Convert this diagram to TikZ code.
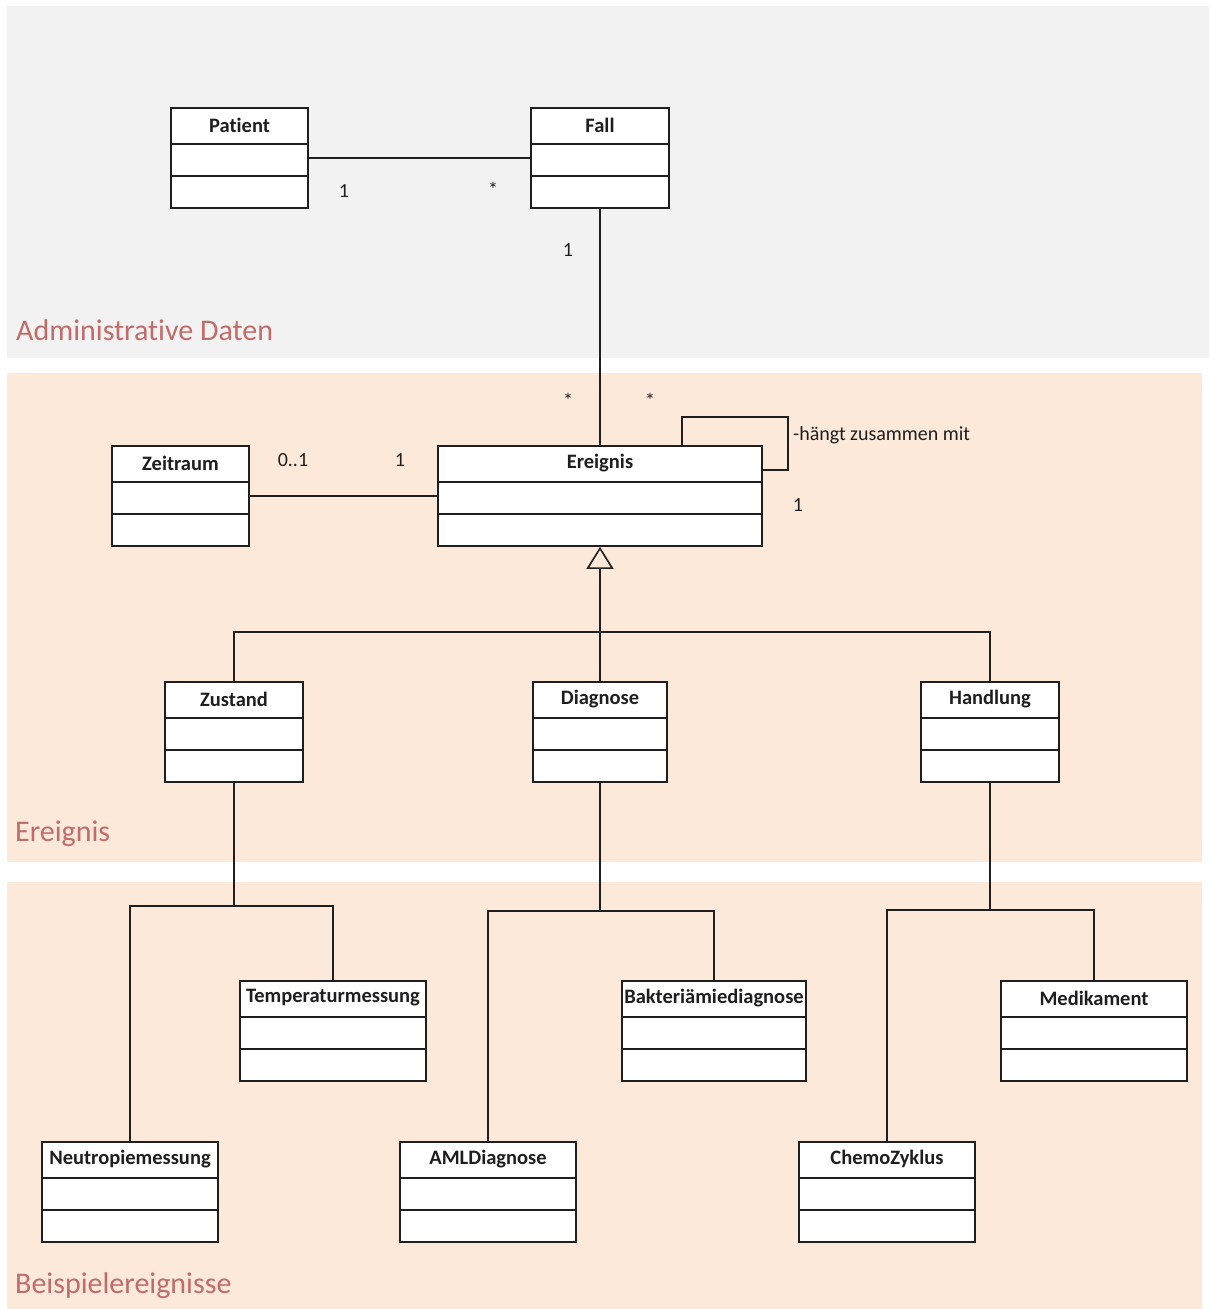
\documentclass[tikz,border=0pt]{standalone}
\usepackage{fontspec}
\setmainfont[Ligatures=NoCommon]{Carlito}
\usetikzlibrary{arrows.meta,calc}
\definecolor{admgray}{RGB}{242,242,242}
\definecolor{peach}{RGB}{253,233,218}
\definecolor{seclabel}{RGB}{192,108,106}
\definecolor{ink}{RGB}{30,30,30}
\tikzset{
  clsbox/.style={draw=ink, line width=1.7pt, fill=white, rectangle, inner sep=0pt},
  divline/.style={draw=ink, line width=1.5pt},
  clsname/.style={font=\fontsize{20.5}{24}\selectfont\bfseries, text=ink, inner sep=0pt},
  conn/.style={draw=ink, line width=1.6pt},
  mult/.style={font=\fontsize{20}{24}\selectfont, text=ink, inner sep=0pt},
  section/.style={font=\fontsize{30}{36}\selectfont, text=seclabel, anchor=west, inner sep=0pt},
  inherit/.style={conn, -{Triangle[open, length=22pt, width=27pt, line width=1.6pt]}},
}
\newcommand{\umlclass}[6]{%
  \node[clsbox, minimum width={#4-#2}, minimum height={#5-#3}] (#1) at ({(#2+#4)/2},{(#3+#5)/2}) {};
  \draw[divline] (#2,#3+36) -- (#4,#3+36);
  \draw[divline] (#2,#3+68) -- (#4,#3+68);
  \node[clsname] (#1-name) at ({(#2+#4)/2},#3+17) {#6};
}
\begin{document}
\begin{tikzpicture}[x=1pt,y=-1pt]
\useasboundingbox (0,0) rectangle (1210,1309);
% backgrounds
\fill[admgray] (7,6) rectangle (1209,358);
\fill[peach] (7,373) rectangle (1202,862);
\fill[peach] (7,882) rectangle (1202,1309);
% section labels
\node[section] (secadm) at (16,330) {Administrative Daten};
\node[section] (secer) at (15,834) {Ereignis};
\node[section] (secbsp) at (15,1286) {Beispielereignisse};
% classes
\umlclass{patient}{171}{108}{308}{208}{Patient}
\umlclass{fall}{531}{108}{669}{208}{Fall}
\umlclass{zeitraum}{112}{446}{249}{546}{Zeitraum}
\umlclass{ereignis}{438}{446}{762}{546}{Ereignis}
\umlclass{zustand}{165}{682}{303}{782}{Zustand}
\umlclass{diagnose}{533}{682}{667}{782}{Diagnose}
\umlclass{handlung}{921}{682}{1059}{782}{Handlung}
\umlclass{temp}{240}{981}{426}{1081}{Temperaturmessung}
\umlclass{bakt}{622}{981}{806}{1081}{Bakteriämiediagnose}
\umlclass{medi}{1001}{981}{1187}{1081}{Medikament}
\umlclass{neutro}{42}{1142}{218}{1242}{Neutropiemessung}
\umlclass{aml}{400}{1142}{576}{1242}{AMLDiagnose}
\umlclass{chemo}{799}{1142}{975}{1242}{ChemoZyklus}
% associations
\draw[conn] (patient.east) -- (fall.west);
\node[mult] (m1) at (344,191) {1};
\node[mult] (m2) at (493,189) {*};
\draw[conn] (fall.south) -- (ereignis.north);
\node[mult] (m3) at (568,250) {1};
\node[mult] (m4) at (568,400) {*};
\node[mult] (m5) at (650,400) {*};
\draw[conn] ([xshift=82pt]ereignis.north) -- ++(0,-28) -- ++(106,0) |- ([yshift=26pt]ereignis.east);
\node[mult, anchor=west] (m6) at (793,435) {-hängt zusammen mit};
\node[mult] (m7) at (798,505) {1};
\draw[conn] (zeitraum.east) -- (ereignis.west);
\node[mult] (m8) at (293,460) {0..1};
\node[mult] (m9) at (400,460) {1};
% generalization
\coordinate (j1) at (600,632);
\draw[conn] (zustand.north) |- (j1) -| (handlung.north);
\draw[conn] (diagnose.north) -- (j1);
\draw[inherit] (j1) -- (ereignis.south);
% second level
\coordinate (j2) at (zustand.south |- 0,906);
\draw[conn] (zustand.south) -- (j2);
\draw[conn] (neutro.north) |- (j2) -| (temp.north);
\coordinate (j3) at (diagnose.south |- 0,911);
\draw[conn] (diagnose.south) -- (j3);
\draw[conn] (aml.north) |- (j3) -| (bakt.north);
\coordinate (j4) at (handlung.south |- 0,910);
\draw[conn] (handlung.south) -- (j4);
\draw[conn] (chemo.north) |- (j4) -| (medi.north);
\end{tikzpicture}
\end{document}
